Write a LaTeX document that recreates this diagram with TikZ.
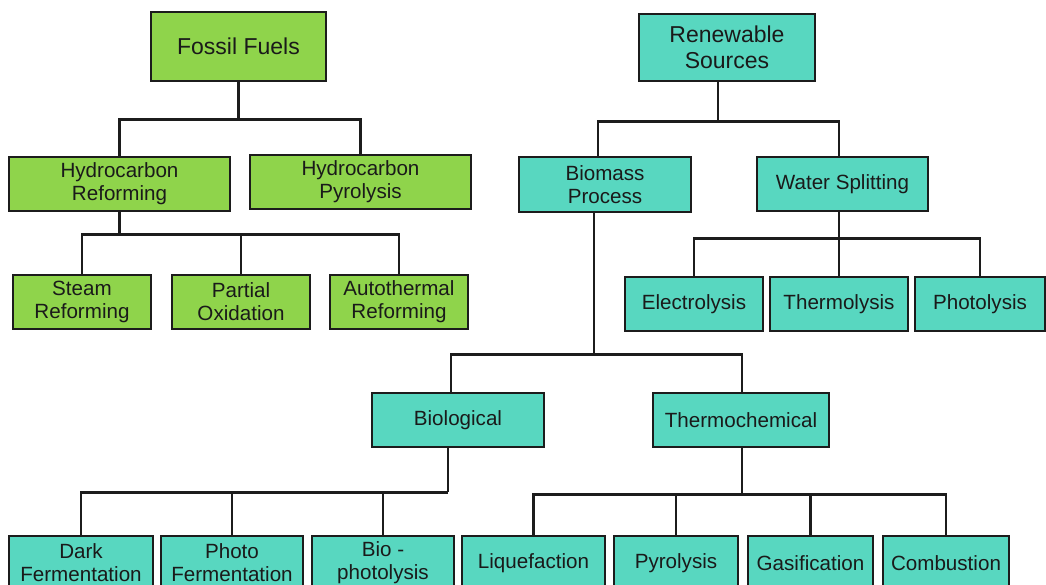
\documentclass[tikz,border=0pt]{standalone}
\usepackage{fontspec}
\setmainfont{Liberation Sans}
\definecolor{gfill}{HTML}{8FD44B}
\definecolor{tfill}{HTML}{58D7C0}
\definecolor{edge}{HTML}{1C1C1C}
\definecolor{ink}{HTML}{1A1A1A}
\tikzset{
  box/.style={draw=edge, line width=2.3pt, inner sep=0pt, align=center, text=ink,
    font=\fontsize{20.6}{23}\selectfont},
  gbox/.style={box, fill=gfill},
  tbox/.style={box, fill=tfill},
  bigtext/.style={font=\fontsize{23}{26}\selectfont},
  link/.style={draw=edge, line width=2.8pt},
}
\begin{document}
\begin{tikzpicture}[x=1pt,y=-1pt]
\useasboundingbox (0,0) rectangle (1046,584);
% top level
\node[gbox, bigtext, minimum width=175, minimum height=69] (fossil) at (238.5,46.5) {Fossil Fuels};
\node[tbox, bigtext, minimum width=176, minimum height=67] (renew) at (727,47.5) {Renewable\\Sources};
% second level
\node[gbox, minimum width=221, minimum height=54] (hr) at (119.5,184) {Hydrocarbon\\Reforming};
\node[gbox, minimum width=221, minimum height=54] (hp) at (360.5,182) {Hydrocarbon\\Pyrolysis};
\node[tbox, minimum width=172, minimum height=55] (biomass) at (605,184.5) {Biomass\\Process};
\node[tbox, minimum width=171, minimum height=54] (water) at (842.5,184) {Water Splitting};
% third level
\node[gbox, minimum width=138, minimum height=54] (steam) at (82,302) {Steam\\Reforming};
\node[gbox, minimum width=138, minimum height=54] (partial) at (241,302) {Partial\\Oxidation};
\node[gbox, minimum width=138, minimum height=54] (auto) at (399,302) {Autothermal\\Reforming};
\node[tbox, minimum width=138, minimum height=54] (electro) at (694,304) {Electrolysis};
\node[tbox, minimum width=138, minimum height=54] (thermo) at (839,304) {Thermolysis};
\node[tbox, minimum width=130, minimum height=54] (photo) at (980,304) {Photolysis};
% biomass branches
\node[tbox, minimum width=172, minimum height=54] (bio) at (458,420) {Biological};
\node[tbox, minimum width=176, minimum height=54] (thermochem) at (741,420) {Thermochemical};
% bottom row
\node[tbox, minimum width=144, minimum height=54] (dark) at (81,563) {Dark\\Fermentation};
\node[tbox, minimum width=142, minimum height=54] (photoferm) at (232,563) {Photo\\Fermentation};
\node[tbox, minimum width=142, minimum height=54] (biophoto) at (383,563) {Bio -\\photolysis};
\node[tbox, minimum width=143, minimum height=54] (liq) at (533.5,563) {Liquefaction};
\node[tbox, minimum width=124, minimum height=54] (pyro) at (676,563) {Pyrolysis};
\node[tbox, minimum width=125, minimum height=54] (gas) at (810.5,563) {Gasification};
\node[tbox, minimum width=126, minimum height=54] (comb) at (946,563) {Combustion};
% connectors: fossil
\draw[link] (fossil.south) -- ++(0,37) coordinate (fj);
\draw[link] (hr.north) |- (fj) -| (hp.north);
\draw[link] (hr.south) -- ++(0,22) coordinate (hj);
\draw[link] (steam.north) |- (hj) -| (auto.north);
\draw[link] (partial.north) -- (partial.north |- hj);
% connectors: renewable
\draw[link] ([xshift=-9pt]renew.south) -- ++(0,39) coordinate (rj);
\draw[link] ([xshift=-7pt]biomass.north) |- (rj) -| ([xshift=-3.5pt]water.north);
\draw[link] ([xshift=-3.5pt]water.south) -- ++(0,26) coordinate (wj);
\draw[link] (electro.north) |- (wj) -| (photo.north);
\draw[link] (wj) -- (wj |- thermo.north);
\draw[link] ([xshift=-11pt]biomass.south) -- ++(0,141) coordinate (bj);
\draw[link] ([xshift=-7pt]bio.north) |- (bj) -| ([xshift=1pt]thermochem.north);
\draw[link] ([xshift=-10pt]bio.south) -- ++(0,44) coordinate (bbj);
\draw[link] (dark.north) |- (bbj);
\draw[link] (photoferm.north) -- (photoferm.north |- bbj);
\draw[link] (biophoto.north) -- (biophoto.north |- bbj);
\draw[link] ([xshift=1pt]thermochem.south) -- ++(0,46) coordinate (tj);
\draw[link] (liq.north) |- (tj) -| (comb.north);
\draw[link] (pyro.north) -- (pyro.north |- tj);
\draw[link] (gas.north) -- (gas.north |- tj);
\end{tikzpicture}
\end{document}
